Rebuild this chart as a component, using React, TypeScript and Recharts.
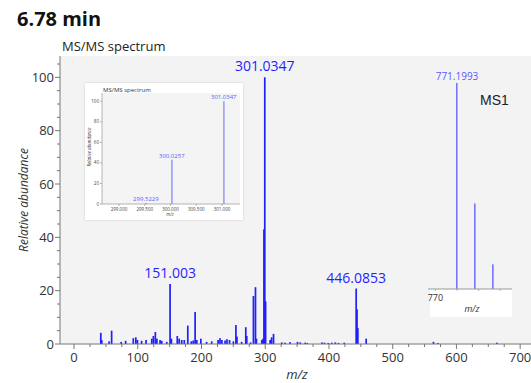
import React from 'react'
import { BarChart, Bar, XAxis, YAxis, CartesianGrid, ReferenceDot } from 'recharts'

// main MS/MS spectrum (m/z positions)
const peakMz = [
  42, 43.5, 55, 59, 74, 81, 93, 97, 99.5, 106, 113, 122, 124.5, 127.6, 130, 135, 137.6,
  145.5, 150.7, 152.8, 162, 165, 169, 173, 178.5, 184, 187, 190, 192.6, 199, 208, 216,
  226, 229, 232, 237, 240, 244, 250, 254, 255.6, 263, 269.5, 271, 277, 281.5, 284.7,
  286.2, 294.6, 296.6, 298, 299.3, 300.6, 307.7, 310, 313, 326, 331, 339, 350.6, 355,
  362.6, 366, 389, 393, 399, 404.5, 410, 415, 424, 442.7, 444, 445.3, 458.4, 564, 571,
  663.5,
]
const peakInt = [
  4.2, 1.5, 1, 5, 0.8, 1.2, 2.2, 2.5, 1.5, 1.2, 1.5, 2, 3, 4.5, 2, 1.5, 1.2,
  0.8, 22.5, 2, 3, 2, 1.5, 1.5, 6.9, 1, 1.3, 12, 1.5, 2, 0.8, 1,
  1.5, 2.2, 1.5, 1.3, 1.8, 1.5, 1, 7.1, 2.8, 0.8, 6.3, 3, 0.6, 18, 21.3,
  2, 1.5, 2, 43, 100, 16, 1.5, 2.5, 3.8, 0.6, 0.5, 0.7, 0.8, 0.6,
  0.5, 0.4, 0.6, 0.5, 0.4, 0.5, 0.6, 0.4, 0.5, 20.8, 13, 6, 2, 0.8, 0.4,
  0.5,
]
const labelMz = [150.7, 299.3, 442.7]
const labelInt = [22.5, 100, 20.8]
const labelText = ['151.003', '301.0347', '446.0853']

const xTicks = Array.from({ length: 29 }, (_, i) => i * 25)
const yTicks = Array.from({ length: 22 }, (_, i) => i * 5)

// zoomed inset
const zoomMz = [299.5229, 300.0257, 301.0347]
const zoomInt = [1, 43, 100]
const zoomLabels = ['299.5229', '300.0257', '301.0347']
const zoomXTicks = [299, 299.5, 300, 300.5, 301]
const zoomYTicks = [0, 20, 40, 60, 80, 100]

// MS1 inset
const ms1Mz = [771.1993, 772.2, 773.2]
const ms1Int = [100, 41.5, 12]
const ms1Ticks = [770, 771.2, 772.4, 773.6]

const FONT = '"Open Sans", "Noto Sans", sans-serif'

const mainData = peakMz.map((mz, i) => ({ mz, int: peakInt[i] }))
const zoomData = zoomMz.map((mz, i) => ({ mz, int: zoomInt[i] }))
const ms1Data = ms1Mz.map((mz, i) => ({ mz, int: ms1Int[i] }))

function Stick(w: number) {
  return (p: any) => (
    <rect x={p.x + p.width / 2 - w / 2} y={p.y} width={w} height={Math.max(p.height, 0.6)} fill={p.fill} />
  )
}

function MainYTick({ x, y, payload }: any) {
  const major = payload.value % 20 === 0
  return (
    <g>
      <line x1={x} x2={x - (major ? 5 : 3)} y1={y} y2={y} stroke="#777" />
      {major && (
        <text x={x - 6} y={y} dy={4.5} textAnchor="end" fontSize={13} fill="#333" fontFamily={FONT}>
          {payload.value}
        </text>
      )}
    </g>
  )
}

function MainXTick({ x, y, payload }: any) {
  const major = payload.value % 100 === 0
  return (
    <g>
      <line x1={x} x2={x} y1={y} y2={y + (major ? 5 : 3)} stroke="#777" />
      {major && (
        <text x={x} y={y + 18} textAnchor="middle" fontSize={13} fill="#333" fontFamily={FONT}>
          {payload.value}
        </text>
      )}
    </g>
  )
}

function ZoomYTick({ x, y, payload }: any) {
  return (
    <g>
      <line x1={x} x2={x - 2} y1={y} y2={y} stroke="#888" strokeWidth={0.6} />
      <text x={x - 3} y={y} dy={1.6} textAnchor="end" fontSize={4.5} fill="#444" fontFamily={FONT}>
        {payload.value}
      </text>
    </g>
  )
}

function ZoomXTick({ x, y, payload }: any) {
  return (
    <g>
      <line x1={x} x2={x} y1={y} y2={y + 2} stroke="#888" strokeWidth={0.6} />
      <text x={x} y={y + 7} textAnchor="middle" fontSize={4.5} fill="#444" fontFamily={FONT}>
        {payload.value.toFixed(3)}
      </text>
    </g>
  )
}

function Ms1XTick({ x, y, payload }: any) {
  return (
    <g>
      <line x1={x} x2={x} y1={y} y2={y + 2} stroke="#999" strokeWidth={0.7} />
      {payload.value === 770 && (
        <text x={x} y={y + 12} textAnchor="middle" fontSize={9} fill="#333" fontFamily={FONT}>
          770
        </text>
      )}
    </g>
  )
}

const abs = (left: number, top: number, extra: React.CSSProperties = {}): React.CSSProperties => ({
  position: 'absolute',
  left,
  top,
  whiteSpace: 'nowrap',
  fontFamily: FONT,
  lineHeight: 1,
  ...extra,
})

export default function App() {
  return (
    <div style={{ position: 'absolute', left: 0, top: 0, width: 531, height: 383, background: '#fff', overflow: 'hidden' }}>
      <BarChart
        width={531}
        height={383}
        data={mainData}
        margin={{ top: 56, right: 0, left: 0, bottom: 9 }}
        style={{ position: 'absolute', left: 0, top: 0 }}
      >
        <CartesianGrid horizontal={false} vertical={false} fill="#f3f3f3" />
        <XAxis
          type="number"
          dataKey="mz"
          domain={[-22, 717]}
          ticks={xTicks}
          interval={0}
          height={30}
          tickSize={0}
          tickMargin={0}
          tickLine={false}
          tick={<MainXTick />}
          axisLine={{ stroke: '#777' }}
          allowDataOverflow
        />
        <YAxis
          type="number"
          domain={[0, 108]}
          ticks={yTicks}
          interval={0}
          width={60}
          tickSize={0}
          tickMargin={0}
          tickLine={false}
          tick={<MainYTick />}
          axisLine={{ stroke: '#777' }}
          allowDataOverflow
        />
        <Bar dataKey="int" fill="#1f1fff" isAnimationActive={false} shape={Stick(1.7)} />
        {labelMz.map((mz, i) => (
          <ReferenceDot
            key={labelText[i]}
            x={mz}
            y={labelInt[i]}
            r={0}
            fill="none"
            stroke="none"
            label={{ value: labelText[i], position: 'top', offset: 6, fill: '#1f1fff', fontSize: 14, fontFamily: FONT }}
          />
        ))}
      </BarChart>

      <div style={abs(17, 9, { fontSize: 20, fontWeight: 700, color: '#111' })}>6.78 min</div>
      <div style={abs(62, 40, { fontSize: 13, color: '#222' })}>MS/MS spectrum</div>
      <div
        style={abs(24, 200, {
          fontSize: 12,
          fontStyle: 'italic',
          color: '#333',
          transform: 'translate(-50%, -50%) rotate(-90deg)',
        })}
      >
        Relative abundance
      </div>
      <div style={abs(297, 374, { fontSize: 13, fontStyle: 'italic', color: '#333', transform: 'translate(-50%, -50%)' })}>
        m/z
      </div>

      {/* zoomed inset */}
      <div
        style={{
          position: 'absolute',
          left: 85,
          top: 83,
          width: 158,
          height: 137,
          background: '#fff',
          boxShadow: '0 0 2px rgba(0,0,0,0.18)',
        }}
      >
        <BarChart width={158} height={137} data={zoomData} margin={{ top: 10, right: 3, left: 0, bottom: 0 }}>
          <CartesianGrid horizontal={false} vertical={false} fill="#f4f4f4" />
          <XAxis
            type="number"
            dataKey="mz"
            domain={[298.67, 301.35]}
            ticks={zoomXTicks}
            interval={0}
            height={16}
            tickSize={0}
            tickMargin={0}
            tickLine={false}
            tick={<ZoomXTick />}
            axisLine={{ stroke: '#888', strokeWidth: 0.6 }}
            allowDataOverflow
          />
          <YAxis
            type="number"
            domain={[0, 108]}
            ticks={zoomYTicks}
            interval={0}
            width={17}
            tickSize={0}
            tickMargin={0}
            tickLine={false}
            tick={<ZoomYTick />}
            axisLine={{ stroke: '#888', strokeWidth: 0.6 }}
            allowDataOverflow
          />
          <Bar dataKey="int" fill="#8080ff" isAnimationActive={false} shape={Stick(1.2)} />
          {zoomMz.map((mz, i) => (
            <ReferenceDot
              key={zoomLabels[i]}
              x={mz}
              y={zoomInt[i]}
              r={0}
              fill="none"
              stroke="none"
              label={{ value: zoomLabels[i], position: 'top', offset: 2, fill: '#5a5aff', fontSize: 6, fontFamily: FONT }}
            />
          ))}
        </BarChart>
        <div style={abs(18, 4, { fontSize: 6, color: '#333' })}>MS/MS spectrum</div>
        <div
          style={abs(4, 64, {
            fontSize: 4.5,
            fontStyle: 'italic',
            color: '#444',
            transform: 'translate(-50%, -50%) rotate(-90deg)',
          })}
        >
          Relative abundance
        </div>
        <div style={abs(85, 131, { fontSize: 4.5, fontStyle: 'italic', color: '#444', transform: 'translate(-50%, -50%)' })}>
          m/z
        </div>
      </div>

      {/* MS1 inset */}
      <div style={{ position: 'absolute', left: 430, top: 289, width: 82, height: 28, background: '#fff' }} />
      <BarChart
        width={86}
        height={254}
        data={ms1Data}
        margin={{ top: 20, right: 2, left: 0, bottom: 0 }}
        style={{ position: 'absolute', left: 428, top: 63 }}
      >
        <XAxis
          type="number"
          dataKey="mz"
          domain={[769.59, 774.25]}
          ticks={ms1Ticks}
          interval={0}
          height={28}
          tickSize={0}
          tickMargin={0}
          tickLine={false}
          tick={<Ms1XTick />}
          axisLine={{ stroke: '#999' }}
          allowDataOverflow
        />
        <YAxis type="number" domain={[0, 100]} hide />
        <Bar dataKey="int" fill="#6e6eff" isAnimationActive={false} shape={Stick(1.5)} />
        <ReferenceDot
          x={ms1Mz[0]}
          y={ms1Int[0]}
          r={0}
          fill="none"
          stroke="none"
          label={{ value: '771.1993', position: 'top', offset: 3, fill: '#5a5aff', fontSize: 10, fontFamily: FONT }}
        />
      </BarChart>
      <div style={abs(480, 93, { fontSize: 14, color: '#222', fontFamily: '"Liberation Sans", Arial, sans-serif' })}>MS1</div>
      <div style={abs(472, 308, { fontSize: 9, fontStyle: 'italic', color: '#333', transform: 'translate(-50%, -50%)' })}>
        m/z
      </div>
    </div>
  )
}
